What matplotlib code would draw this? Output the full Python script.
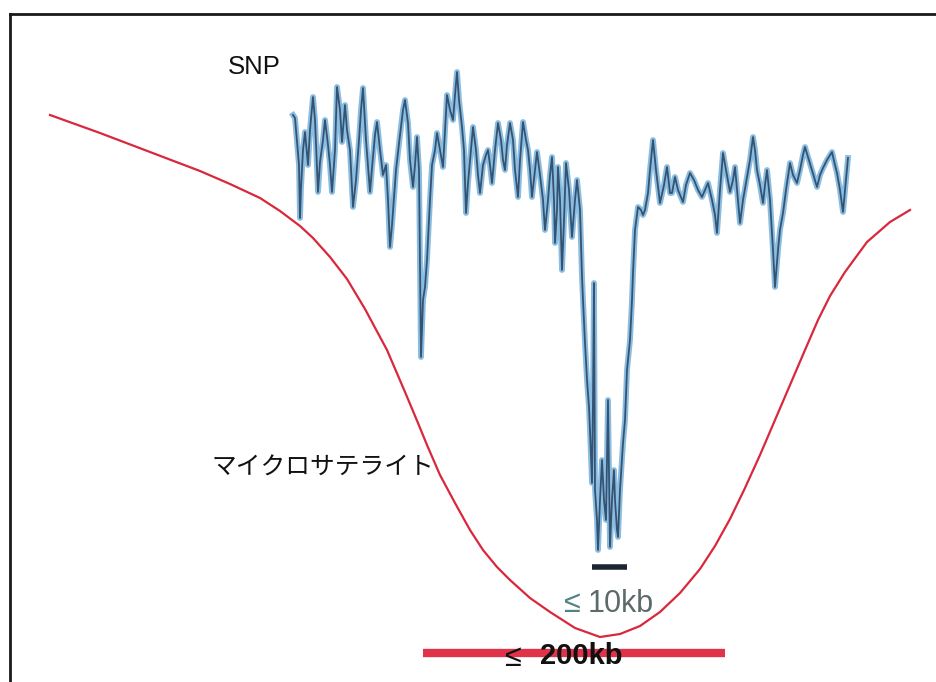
import matplotlib
matplotlib.use("Agg")
import matplotlib.pyplot as plt

# SNP signal trace: genomic position (arbitrary units) and signal depth (down = larger)
snp_pos = [293, 295, 297, 299, 300, 301, 303, 305, 308, 310, 313, 315, 318, 320, 323, 325, 328, 330,
           332, 335, 337, 340, 342, 345, 347, 350, 353, 356, 359, 361, 363, 366, 370, 372, 375, 377,
           380, 383, 386, 388, 390, 392, 396, 400, 403, 405, 408, 410, 413, 415, 417, 419, 421, 423,
           425, 427, 430, 432, 435, 437, 440, 443, 445, 447, 450, 453, 455, 457, 459, 462, 464, 466,
           468, 471, 473, 476, 478, 480, 483, 486, 488, 490, 492, 495, 498, 501, 503, 505, 507, 510,
           513, 515, 518, 520, 523, 526, 528, 530, 532, 535, 537, 540, 543, 545, 548, 550, 552, 554,
           555, 557, 558, 560, 562, 564, 566, 569, 572, 575, 577, 580, 582, 583, 585, 587, 589, 590,
           592, 593, 594, 595, 597, 598, 600, 602, 604, 606, 608, 610, 612, 614, 615, 617, 618, 620,
           623, 625, 627, 628, 630, 632, 633, 635, 637, 638, 641, 643, 645, 648, 650, 653, 656, 660,
           664, 667, 670, 672, 675, 678, 683, 686, 690, 694, 698, 702, 705, 708, 712, 715, 717, 720,
           723, 726, 730, 733, 735, 738, 740, 743, 747, 750, 753, 755, 757, 760, 763, 765, 767, 770,
           773, 775, 778, 780, 783, 786, 790, 793, 797, 800, 803, 805, 808, 812, 817, 820, 823, 827,
           832, 835, 837, 840, 843, 846, 848]
snp_val = [115, 118, 142, 165, 218, 188, 150, 132, 165, 130, 97, 120, 192, 162, 140, 120, 145, 165,
           192, 150, 87, 110, 142, 105, 130, 150, 207, 180, 140, 110, 88, 140, 192, 168, 135, 122,
           150, 175, 165, 200, 247, 225, 170, 135, 110, 100, 123, 160, 187, 165, 137, 170, 357, 300,
           287, 260, 200, 165, 150, 133, 150, 167, 130, 95, 110, 120, 95, 72, 100, 127, 150, 213,
           183, 150, 127, 150, 175, 193, 165, 155, 150, 165, 183, 150, 123, 140, 160, 170, 145, 123,
           140, 170, 197, 160, 122, 140, 150, 170, 197, 170, 152, 175, 200, 230, 200, 175, 157, 200,
           243, 210, 167, 200, 270, 220, 163, 190, 237, 200, 180, 210, 277, 300, 343, 380, 407, 430,
           483, 400, 283, 490, 520, 550, 500, 460, 500, 520, 400, 547, 500, 470, 500, 530, 537, 490,
           443, 420, 370, 360, 340, 300, 273, 230, 215, 207, 210, 215, 210, 193, 170, 140, 170, 203,
           185, 167, 193, 193, 177, 190, 202, 185, 173, 180, 190, 197, 190, 183, 200, 215, 233, 190,
           153, 170, 192, 180, 167, 200, 223, 200, 177, 160, 137, 150, 170, 185, 203, 185, 170, 200,
           250, 287, 250, 230, 213, 190, 163, 175, 183, 170, 155, 147, 157, 170, 187, 175, 168, 160,
           152, 165, 173, 190, 212, 180, 158]

# Microsatellite smoothed profile
ms_pos = [50, 100, 150, 200, 230, 260, 280, 300, 313, 330, 347, 365, 387, 405, 418, 427, 440, 455,
          470, 483, 497, 510, 530, 550, 575, 600, 620, 640, 660, 680, 700, 715, 730, 745, 760, 775,
          790, 805, 818, 830, 845, 867, 890, 910]
ms_val = [115, 133, 152, 171, 184, 198, 211, 226, 238, 257, 279, 309, 350, 392, 423, 445, 475, 503,
          530, 550, 567, 580, 598, 612, 628, 637, 634, 626, 612, 593, 569, 546, 519, 488, 455, 420,
          385, 350, 320, 296, 272, 242, 222, 210]

# Resolution bars: (start, end, level)
snp_bar = (592, 627, 567)
ms_bar = (423, 725, 653)

fig = plt.figure(figsize=(9.37, 6.82), dpi=100)
ax = fig.add_axes([0, 0, 1, 1])
ax.set_xlim(0, 937)
ax.set_ylim(682, 0)
ax.set_xticks([])
ax.set_yticks([])
for side in ("right", "bottom"):
    ax.spines[side].set_visible(False)
ax.spines["left"].set_position(("data", 10))
ax.spines["top"].set_position(("data", 14))
ax.spines["left"].set_bounds(14, 682)
ax.spines["top"].set_bounds(10, 937)
for side in ("left", "top"):
    ax.spines[side].set_linewidth(2.0)
    ax.spines[side].set_color("#1a1a1a")

# microsatellite curve
ax.plot(ms_pos, ms_val, color="#d9283c", lw=1.6, solid_joinstyle="round")

# SNP trace: light-blue halo plus dark core
ax.plot(snp_pos, snp_val, color="#7fb6de", lw=4.2, alpha=0.9, solid_joinstyle="round")
ax.plot(snp_pos, snp_val, color="#2b4866", lw=1.3, alpha=0.9)

# resolution bars
ax.plot([snp_bar[0], snp_bar[1]], [snp_bar[2], snp_bar[2]], color="#1c2632", lw=4, solid_capstyle="butt")
ax.plot([ms_bar[0], ms_bar[1]], [ms_bar[2], ms_bar[2]], color="#e0334a", lw=6, solid_capstyle="butt")

ax.text(228, 67, "SNP", fontsize=18.5, family=["Liberation Sans", "DejaVu Sans"],
        color="#111111", va="center", ha="left")
ax.text(211, 468, "マイクロサテライト", fontsize=17.8,
        family=["Noto Sans CJK JP", "DejaVu Sans"], color="#111111", va="center", ha="left")
ax.text(563, 604, "≤", fontsize=22, family=["Liberation Sans", "DejaVu Sans"],
        color="#4e8484", va="center", ha="left")
ax.text(588, 604, "10kb", fontsize=22, family=["Liberation Sans", "DejaVu Sans"],
        color="#5d6a6a", va="center", ha="left")
ax.text(504, 658, "≤", fontsize=22, family=["Liberation Sans", "DejaVu Sans"],
        color="#111111", va="center", ha="left")
ax.text(540, 656, "200kb", fontsize=21, fontweight="bold",
        family=["Liberation Sans", "DejaVu Sans"], color="#111111", va="center", ha="left")

fig.savefig("out.png", dpi=100)
